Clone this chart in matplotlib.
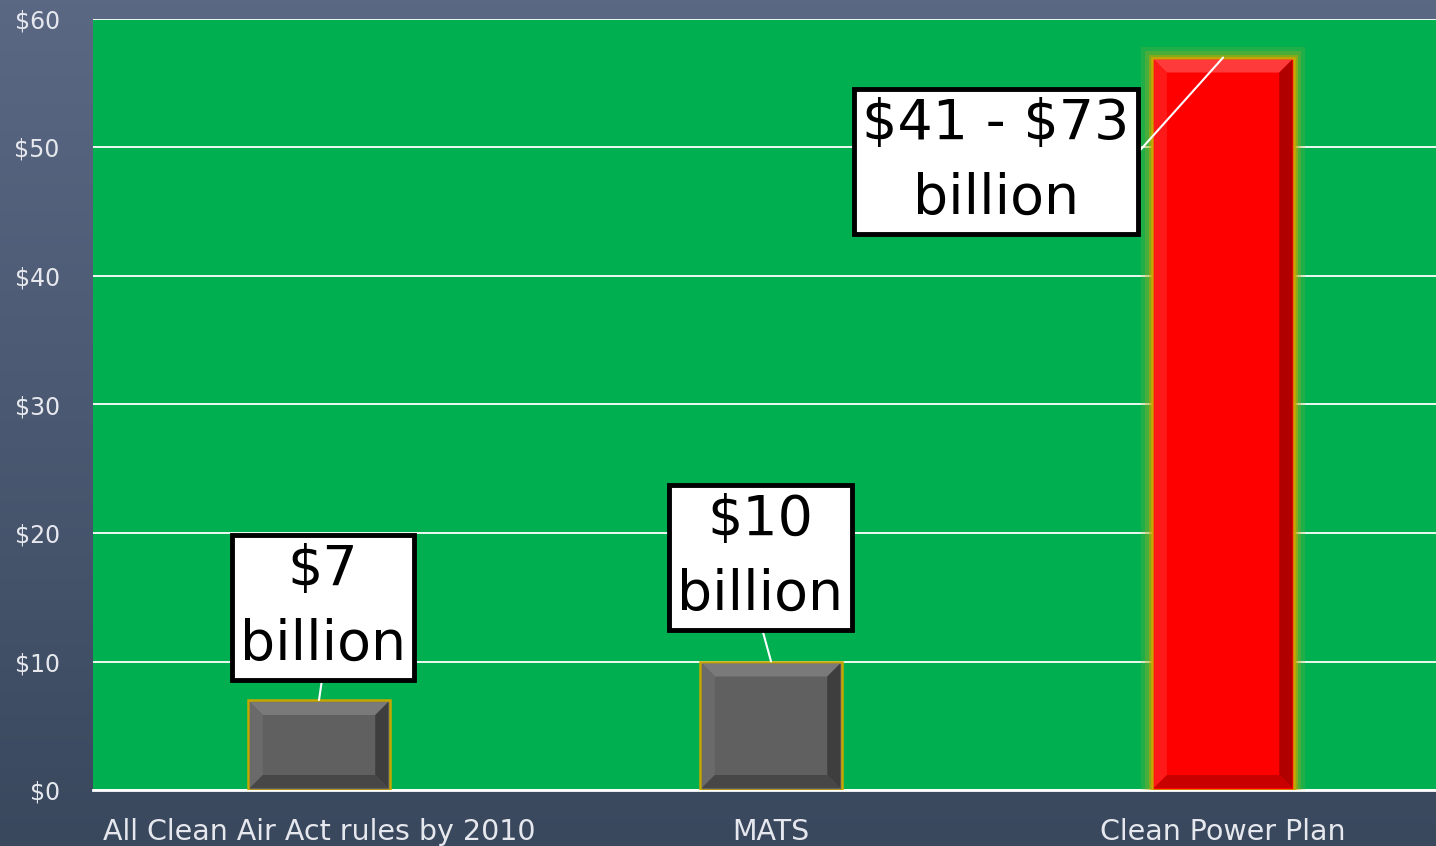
import numpy as np
import matplotlib
matplotlib.use("Agg")
import matplotlib.pyplot as plt
from matplotlib.patches import Polygon
import matplotlib.patheffects as pe

# compliance cost estimates, billions of dollars
programs = ["All Clean Air Act rules by 2010", "MATS", "Clean Power Plan"]
costs = [7, 10, 57]
cost_labels = ["$7\nbillion", "$10\nbillion", "$41 - $73\nbillion"]
y_ticks = [0, 10, 20, 30, 40, 50, 60]
y_tick_labels = ["$0", "$10", "$20", "$30", "$40", "$50", "$60"]

plt.rcParams["font.family"] = ["DejaVu Sans"]

W, H, DPI = 1436, 846, 100
fig = plt.figure(figsize=(W / DPI, H / DPI), dpi=DPI)

# slate gradient behind everything
bg = fig.add_axes([0, 0, 1, 1])
grad = np.linspace(0, 1, 256)[:, None]
top = np.array([90, 104, 132]) / 255
bot = np.array([58, 72, 94]) / 255
img = top[None, None, :] * (1 - grad[..., None]) + bot[None, None, :] * grad[..., None]
bg.imshow(img, aspect="auto", extent=[0, 1, 0, 1], origin="upper")
bg.set_axis_off()

ax = fig.add_axes([93 / W, 1 - 790 / H, 1 - 93 / W, (790 - 19) / H])
ax.set_facecolor("#00b050")
ax.set_xlim(-0.5, 2.471)
ax.set_ylim(0, 60)
ax.set_axisbelow(True)
ax.yaxis.grid(True, color="white", lw=1.3)
for s in ("top", "left", "right"):
    ax.spines[s].set_visible(False)
ax.spines["bottom"].set_color("white")
ax.spines["bottom"].set_linewidth(2)

ax.set_yticks(y_ticks, y_tick_labels)
ax.set_xticks(range(len(programs)), programs)
ax.tick_params(axis="y", length=0, pad=24, labelsize=17, labelcolor="#e6e8ee")
ax.tick_params(axis="x", length=0, pad=20, labelsize=20.5, labelcolor="#e6e8ee")

faces = ["#606060", "#606060", "#ff0000"]
light = ["#7a7a7a", "#7a7a7a", "#ff3a3a"]
side = ["#6a6a6a", "#6a6a6a", "#ff1a1a"]
dark = ["#3e3e3e", "#3e3e3e", "#b00000"]
bdark = ["#474747", "#474747", "#c80000"]

bars = ax.bar(range(len(programs)), costs, width=0.315, color=faces,
              edgecolor="#c8a800", linewidth=1.8, zorder=3)

# soft yellow halo around the Clean Power Plan bar
bars[2].set_path_effects([
    pe.Stroke(linewidth=16, foreground="#a0a828", alpha=0.2),
    pe.Stroke(linewidth=10, foreground="#b0a818", alpha=0.3),
    pe.Stroke(linewidth=5, foreground="#c8a800", alpha=0.5),
    pe.Normal(),
])

# bevel edges, sized in pixels
fig.canvas.draw()
bb = ax.get_window_extent()
px_x = (ax.get_xlim()[1] - ax.get_xlim()[0]) / bb.width
px_y = (ax.get_ylim()[1] - ax.get_ylim()[0]) / bb.height
bev = 13
for i, b in enumerate(bars):
    x0, y0 = b.get_x(), b.get_y()
    x1, y1 = x0 + b.get_width(), y0 + b.get_height()
    ins = 2
    ox0, ox1 = x0 + ins * px_x, x1 - ins * px_x
    oy0, oy1 = y0 + ins * px_y, y1 - ins * px_y
    ix0, ix1 = ox0 + bev * px_x, ox1 - bev * px_x
    iy0, iy1 = oy0 + bev * px_y, oy1 - bev * px_y
    pieces = [
        ([(ox0, oy1), (ox1, oy1), (ix1, iy1), (ix0, iy1)], light[i]),
        ([(ox0, oy0), (ox0, oy1), (ix0, iy1), (ix0, iy0)], side[i]),
        ([(ox1, oy0), (ox1, oy1), (ix1, iy1), (ix1, iy0)], dark[i]),
        ([(ox0, oy0), (ox1, oy0), (ix1, iy0), (ix0, iy0)], bdark[i]),
    ]
    for pts, c in pieces:
        ax.add_patch(Polygon(pts, closed=True, fc=c, ec="none", zorder=4))

# callout boxes with leader lines to the bar tops
label_pos = [(0.009, 14.2), (0.976, 18.1), (1.498, 48.9)]
rel = [(0.5, 0), (0.5, 0), (1, 0.5)]
for i, txt in enumerate(cost_labels):
    ax.annotate(txt, xy=(i, costs[i]), xytext=label_pos[i],
                ha="center", va="center", fontsize=40, linespacing=1.5,
                color="black", zorder=6, parse_math=False,
                bbox=dict(boxstyle="square,pad=0.15", fc="white", ec="black", lw=3.5),
                arrowprops=dict(arrowstyle="-", color="white", lw=1.5,
                                shrinkA=0, shrinkB=0, relpos=rel[i]))

fig.savefig("out.png", dpi=DPI)
